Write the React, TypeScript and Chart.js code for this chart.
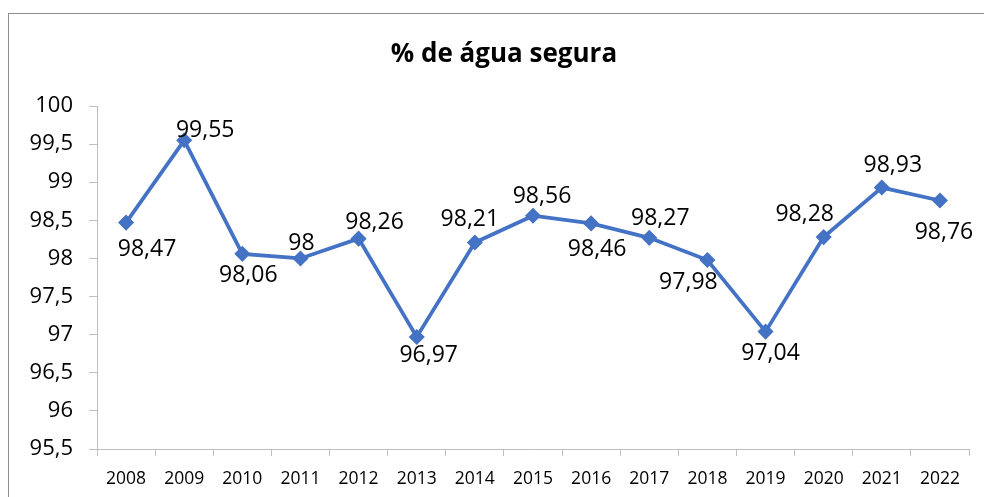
import React, { useEffect, useRef } from "react";
import { Chart, registerables } from "chart.js";

Chart.register(...registerables);

const TITLE = "% de água segura";
const years = ["2008", "2009", "2010", "2011", "2012", "2013", "2014", "2015", "2016", "2017", "2018", "2019", "2020", "2021", "2022"];
const values = [98.47, 99.55, 98.06, 98, 98.26, 96.97, 98.21, 98.56, 98.46, 98.27, 97.98, 97.04, 98.28, 98.93, 98.76];
// label offsets relative to each point (data-label placement, as in the original)
const labelDx = [21, 21, 6, 1, 16, 12, -5, 9, 6, 11, -19, 5, -19, 11, 4];
const labelDy = [25, -12, 20, -17, -18, 17, -25, -21, 24, -21, 21, 20, -24, -24, 30];

const FONT = "'Open Sans', 'Noto Sans', sans-serif";
const LINE_COLOR = "#4472C4";
const AXIS_COLOR = "#BFBFBF";

const fmt = (v: number) => String(Math.round(v * 100) / 100).replace(".", ",");

const decorPlugin = {
  id: "decor",
  beforeDraw(chart: any) {
    const ctx = chart.ctx;
    ctx.save();
    ctx.fillStyle = "#ffffff";
    ctx.fillRect(0, 0, chart.width, chart.height);
    ctx.strokeStyle = "#8F8F8F";
    ctx.lineWidth = 1;
    ctx.strokeRect(8.5, 13.5, chart.width + 20, chart.height + 20);
    ctx.fillStyle = "#000000";
    ctx.font = `bold 26px ${FONT}`;
    ctx.textAlign = "center";
    ctx.textBaseline = "middle";
    ctx.fillText(TITLE, 504, 55);
    ctx.restore();
  },
  afterDatasetsDraw(chart: any) {
    const ctx = chart.ctx;
    const meta = chart.getDatasetMeta(0);
    ctx.save();
    ctx.fillStyle = "#000000";
    ctx.font = `23px ${FONT}`;
    ctx.textAlign = "center";
    ctx.textBaseline = "alphabetic";
    meta.data.forEach((pt: any, i: number) => {
      const cx = pt.x + labelDx[i];
      const cy = pt.y + labelDy[i];
      ctx.fillText(fmt(values[i]), cx, cy + 8.2);
    });
    ctx.restore();
  },
};

export default function App() {
  const ref = useRef<HTMLCanvasElement | null>(null);
  useEffect(() => {
    if (!ref.current) return;
    const chart = new Chart(ref.current, {
      type: "line",
      data: {
        labels: years,
        datasets: [
          {
            data: values,
            borderColor: LINE_COLOR,
            backgroundColor: LINE_COLOR,
            borderWidth: 3.75,
            pointStyle: "rectRot",
            pointRadius: 7,
            pointBorderWidth: 1.5,
            pointBackgroundColor: LINE_COLOR,
            pointBorderColor: LINE_COLOR,
            tension: 0,
            fill: false,
          },
        ],
      },
      options: {
        animation: false,
        responsive: false,
        maintainAspectRatio: false,
        layout: { padding: { top: 106, right: 15, bottom: 0, left: 0 } },
        plugins: {
          legend: { display: false },
          title: { display: false },
          tooltip: { enabled: false },
        },
        scales: {
          x: {
            type: "category",
            offset: true,
            grid: {
              offset: true,
              drawOnChartArea: false,
              drawTicks: true,
              tickLength: 7,
              color: AXIS_COLOR,
            },
            border: { display: true, color: AXIS_COLOR, width: 1 },
            ticks: {
              color: "#000000",
              font: { family: FONT, size: 17.5 },
              padding: 13,
              maxRotation: 0,
              autoSkip: false,
            },
            afterFit: (s: any) => {
              s.height = 48;
            },
          },
          y: {
            min: 95.5,
            max: 100,
            grid: {
              drawOnChartArea: false,
              drawTicks: true,
              tickLength: 8,
              color: AXIS_COLOR,
            },
            border: { display: true, color: AXIS_COLOR, width: 1 },
            ticks: {
              stepSize: 0.5,
              color: "#000000",
              font: { family: FONT, size: 22 },
              padding: 16,
              callback: (v: any) => fmt(Number(v)),
            },
            afterFit: (s: any) => {
              s.width = 97;
            },
          },
        },
      },
      plugins: [decorPlugin],
    });
    return () => chart.destroy();
  }, []);
  return (
    <div style={{ position: "absolute", left: 0, top: 0, width: 984, height: 497, background: "#fff" }}>
      <canvas ref={ref} width={984} height={497} style={{ display: "block", width: 984, height: 497 }} />
    </div>
  );
}
